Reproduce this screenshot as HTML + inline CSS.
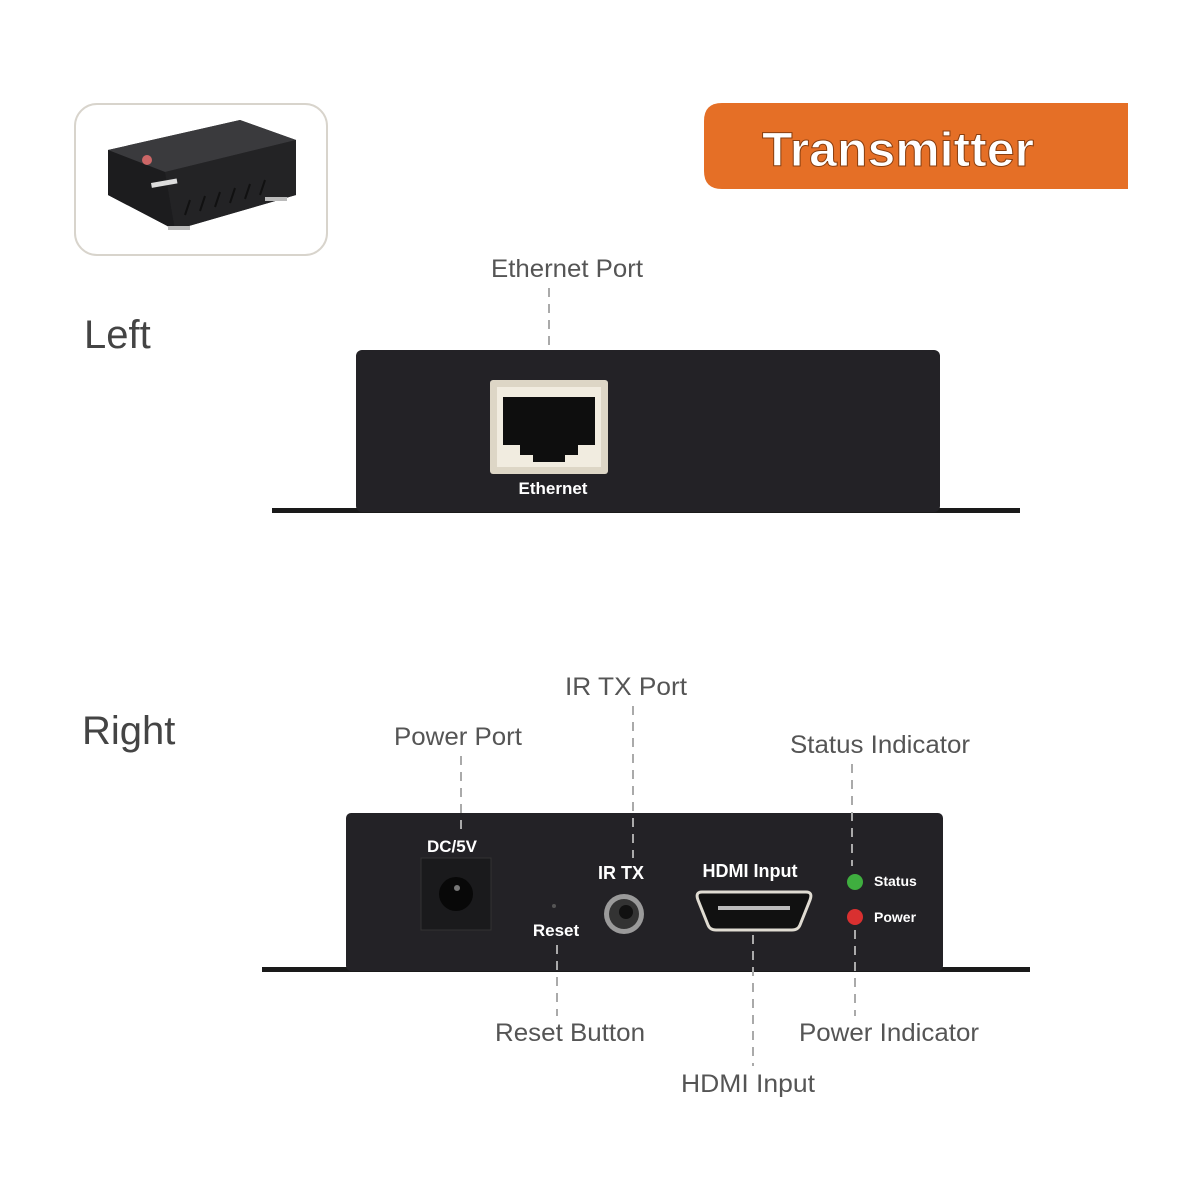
<!DOCTYPE html>
<html><head><meta charset="utf-8"><style>
html,body{margin:0;padding:0;background:#fff;width:1200px;height:1200px;overflow:hidden}
svg{display:block}
.lbl{font-family:"Liberation Sans",sans-serif;font-size:25px;fill:#555}
.w{font-family:"Liberation Sans",sans-serif;font-weight:bold;fill:#fff}
</style></head><body>
<svg width="1200" height="1200" viewBox="0 0 1200 1200" xmlns="http://www.w3.org/2000/svg">
<!-- thumbnail -->
<rect x="75" y="104" width="252" height="151" rx="22" fill="#fff" stroke="#d8d4cc" stroke-width="2"/>
<polygon points="108,150 240,120 296,140 296,195 175,230 108,195" fill="#2a2a2c"/>
<polygon points="108,150 240,120 296,140 165,172" fill="#3a3a3d"/>
<polygon points="165,172 296,140 296,195 175,230" fill="#232325"/>
<polygon points="108,150 165,172 175,230 108,195" fill="#1c1c1e"/>
<g stroke="#111" stroke-width="2">
<line x1="190" y1="200" x2="185" y2="215"/><line x1="205" y1="196" x2="200" y2="211"/><line x1="220" y1="192" x2="215" y2="207"/><line x1="235" y1="188" x2="230" y2="203"/><line x1="250" y1="184" x2="245" y2="199"/><line x1="265" y1="180" x2="260" y2="195"/>
</g>
<circle cx="147" cy="160" r="5" fill="#c66"/>
<rect x="151" y="183" width="26" height="5" fill="#ddd" transform="rotate(-10 151 183)"/>
<rect x="168" y="226" width="22" height="4" fill="#bbb"/>
<rect x="265" y="197" width="22" height="4" fill="#bbb"/>
<!-- banner -->
<path d="M722,103 H1128 V189 H722 Q704,189 704,171 V121 Q704,103 722,103 Z" fill="#e56f26"/>
<text x="898" y="166" text-anchor="middle" class="w" font-size="48" textLength="272" lengthAdjust="spacingAndGlyphs" fill="#fff8ea" stroke="#8a3f10" stroke-width="1">Transmitter</text>
<!-- Left -->
<text x="84" y="348" font-family="Liberation Sans,sans-serif" font-size="40" fill="#444">Left</text>
<text x="567" y="277" text-anchor="middle" class="lbl" textLength="152" lengthAdjust="spacingAndGlyphs">Ethernet Port</text>
<line x1="549" y1="288" x2="549" y2="370" stroke="#aaa" stroke-width="2" stroke-dasharray="9,7"/>
<rect x="272" y="508" width="748" height="5" fill="#1a1a1a"/>
<rect x="356" y="350" width="584" height="162" rx="6" fill="#232226"/>
<rect x="490" y="380" width="118" height="94" rx="3" fill="#ddd6c6"/>
<rect x="497" y="387" width="104" height="80" fill="#f1ece0"/>
<path d="M503,397 H595 V445 H578 V455 H565 V462 H533 V455 H520 V445 H503 Z" fill="#0e0e0e"/>
<text x="553" y="494" text-anchor="middle" class="w" font-size="17">Ethernet</text>
<!-- Right -->
<text x="82" y="744" font-family="Liberation Sans,sans-serif" font-size="40" fill="#444">Right</text>
<text x="458" y="745" text-anchor="middle" class="lbl" textLength="128" lengthAdjust="spacingAndGlyphs">Power Port</text>
<text x="626" y="695" text-anchor="middle" class="lbl" textLength="122" lengthAdjust="spacingAndGlyphs">IR TX Port</text>
<text x="880" y="753" text-anchor="middle" class="lbl" textLength="180" lengthAdjust="spacingAndGlyphs">Status Indicator</text>
<text x="570" y="1041" text-anchor="middle" class="lbl" textLength="150" lengthAdjust="spacingAndGlyphs">Reset Button</text>
<text x="889" y="1041" text-anchor="middle" class="lbl" textLength="180" lengthAdjust="spacingAndGlyphs">Power Indicator</text>
<text x="748" y="1092" text-anchor="middle" class="lbl" textLength="134" lengthAdjust="spacingAndGlyphs">HDMI Input</text>
<rect x="262" y="967" width="768" height="5" fill="#1a1a1a"/>
<rect x="346" y="813" width="597" height="158" rx="5" fill="#232226"/>
<g stroke="#aaa" stroke-width="2" stroke-dasharray="9,7">
<line x1="461" y1="756" x2="461" y2="832"/>
<line x1="633" y1="706" x2="633" y2="858"/>
<line x1="852" y1="764" x2="852" y2="866"/>
<line x1="557" y1="945" x2="557" y2="1016"/>
<line x1="753" y1="935" x2="753" y2="1066"/>
<line x1="855" y1="930" x2="855" y2="1016"/>
</g>
<text x="452" y="852" text-anchor="middle" class="w" font-size="17">DC/5V</text>
<rect x="421" y="858" width="70" height="72" fill="#1a1a1c" stroke="#333" stroke-width="1"/>
<circle cx="456" cy="894" r="17" fill="#080808"/>
<circle cx="457" cy="888" r="3" fill="#777"/>
<circle cx="554" cy="906" r="2" fill="#555"/>
<text x="556" y="936" text-anchor="middle" class="w" font-size="17">Reset</text>
<text x="621" y="879" text-anchor="middle" class="w" font-size="18">IR TX</text>
<circle cx="624" cy="914" r="20" fill="#9a9a9a"/>
<circle cx="624" cy="914" r="15" fill="#333"/>
<circle cx="626" cy="912" r="7" fill="#111"/>
<text x="750" y="877" text-anchor="middle" class="w" font-size="18">HDMI Input</text>
<path d="M702,892 H806 Q813,892 810,900 L800,925 Q798,930 792,930 H716 Q710,930 708,925 L698,900 Q695,892 702,892 Z" fill="#111" stroke="#e0dcd2" stroke-width="3"/>
<rect x="718" y="906" width="72" height="4" fill="#bbb"/>
<circle cx="855" cy="882" r="8" fill="#3fae3f"/>
<circle cx="855" cy="917" r="8" fill="#d93030"/>
<text x="874" y="886" class="w" font-size="14">Status</text>
<text x="874" y="922" class="w" font-size="14">Power</text>
</svg>
</body></html>
